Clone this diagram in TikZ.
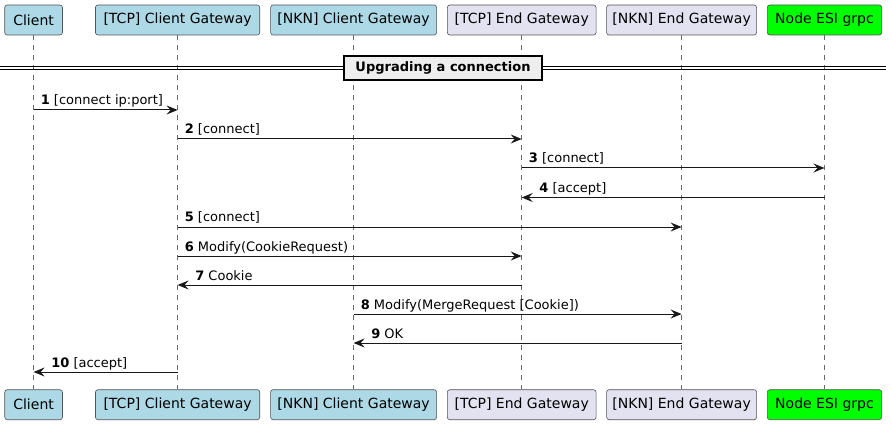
\documentclass[tikz,border=0pt]{standalone}
\usepackage{fontspec}
\setmainfont{DejaVu Sans}
\usetikzlibrary{arrows.meta}
\definecolor{lblue}{HTML}{ADD8E6}
\definecolor{lav}{HTML}{E2E2F0}
\definecolor{lime}{HTML}{00FF00}
\definecolor{ink}{HTML}{181818}
\definecolor{divfill}{HTML}{EEEEEE}
\tikzset{
  part/.style={draw=ink!75, line width=0.6pt, rounded corners=2.5pt, minimum height=30pt, inner sep=0pt,
    font=\fontsize{14}{16}\selectfont, text=black},
  life/.style={draw=ink!65, line width=0.6pt, dash pattern=on 5pt off 5pt},
  msg/.style={draw=ink, line width=1pt, -{Stealth[length=11pt,width=9pt,inset=4pt]}},
  lbl/.style={anchor=base west, inner sep=0pt, font=\fontsize{13}{15}\selectfont},
  divbox/.style={draw=black, line width=1.6pt, fill=divfill, minimum width=198pt, minimum height=24pt, inner sep=0pt,
    font=\fontsize{13}{15}\selectfont\bfseries},
}
\begin{document}
\begin{tikzpicture}[x=1pt,y=-1pt]
\useasboundingbox (0,0) rectangle (892,425);
% participants top
\node[part, fill=lblue, minimum width=57.7pt] (tA) at (33.6,20) {Client};
\node[part, fill=lblue, minimum width=164.3pt] (tB) at (177.6,20) {[TCP] Client Gateway};
\node[part, fill=lblue, minimum width=166pt] (tC) at (353.6,20) {[NKN] Client Gateway};
\node[part, fill=lav, minimum width=148.7pt] (tD) at (521.7,20) {[TCP] End Gateway};
\node[part, fill=lav, minimum width=150pt] (tE) at (681.6,20) {[NKN] End Gateway};
\node[part, fill=lime, minimum width=114.4pt] (tF) at (824.5,20) {Node ESI grpc};
% participants bottom
\node[part, fill=lblue, minimum width=57.7pt] (bA) at (33.6,404.7) {Client};
\node[part, fill=lblue, minimum width=164.3pt] (bB) at (177.6,404.7) {[TCP] Client Gateway};
\node[part, fill=lblue, minimum width=166pt] (bC) at (353.6,404.7) {[NKN] Client Gateway};
\node[part, fill=lav, minimum width=148.7pt] (bD) at (521.7,404.7) {[TCP] End Gateway};
\node[part, fill=lav, minimum width=150pt] (bE) at (681.6,404.7) {[NKN] End Gateway};
\node[part, fill=lime, minimum width=114.4pt] (bF) at (824.5,404.7) {Node ESI grpc};
% lifelines
\foreach \p in {A,B,C,D,E,F} {
  \draw[life] (t\p.south) -- (b\p.north);
}
% divider
\coordinate (dl) at (0,68);
\coordinate (dr) at (886,68);
\draw[line width=1pt, black] ([yshift=-1.6pt]dl) -- ([yshift=-1.6pt]dr);
\draw[line width=1pt, black] ([yshift=1.6pt]dl) -- ([yshift=1.6pt]dr);
\node[divbox] (div) at (443,68) {Upgrading a connection};
% message end points
\foreach \p in {A,B,C,D,E,F} {
  \foreach \y [count=\i] in {110,139,168,197.5,227,256,285,314,343,372} {
    \coordinate (\p\i) at (t\p |- 0,\y);
  }
}
% messages
\draw[msg] (A1) -- (B1);
\node[lbl] (l1) at ([xshift=7pt,yshift=5pt]A1) {\textbf{1} [connect ip:port]};
\draw[msg] (B2) -- (D2);
\node[lbl] (l2) at ([xshift=7pt,yshift=5pt]B2) {\textbf{2} [connect]};
\draw[msg] (D3) -- (F3);
\node[lbl] (l3) at ([xshift=7pt,yshift=5pt]D3) {\textbf{3} [connect]};
\draw[msg] (F4) -- (D4);
\node[lbl] (l4) at ([xshift=17.5pt,yshift=5pt]D4) {\textbf{4} [accept]};
\draw[msg] (B5) -- (E5);
\node[lbl] (l5) at ([xshift=7pt,yshift=5pt]B5) {\textbf{5} [connect]};
\draw[msg] (B6) -- (D6);
\node[lbl] (l6) at ([xshift=7pt,yshift=5pt]B6) {\textbf{6} Modify(CookieRequest)};
\draw[msg] (D7) -- (B7);
\node[lbl] (l7) at ([xshift=17.5pt,yshift=5pt]B7) {\textbf{7} Cookie};
\draw[msg] (C8) -- (E8);
\node[lbl] (l8) at ([xshift=7pt,yshift=5pt]C8) {\textbf{8} Modify(MergeRequest [Cookie])};
\draw[msg] (E9) -- (C9);
\node[lbl] (l9) at ([xshift=17.5pt,yshift=5pt]C9) {\textbf{9} OK};
\draw[msg] (B10) -- (A10);
\node[lbl] (l10) at ([xshift=17.5pt,yshift=5pt]A10) {\textbf{10} [accept]};
\end{tikzpicture}
\end{document}
